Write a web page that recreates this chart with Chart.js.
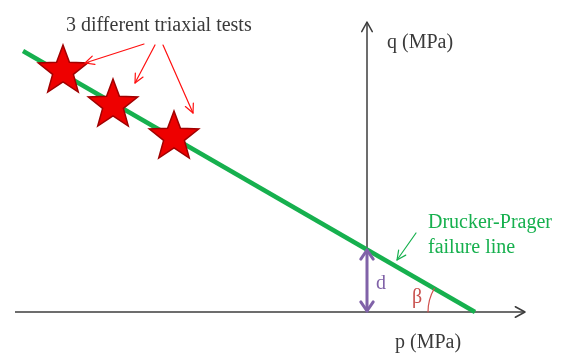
<!DOCTYPE html>
<html>
<head>
<meta charset="utf-8">
<script src="https://cdn.jsdelivr.net/npm/chart.js@4.4.1/dist/chart.umd.min.js"></script>
<style>
  html, body { margin: 0; padding: 0; background: #fff; }
  #wrap { width: 565px; height: 353px; position: relative; }
</style>
</head>
<body>
<div id="wrap"><canvas id="myChart"></canvas></div>
<script>
// p-q plane, units are arbitrary (MPa, no ticks shown)
const testP = [-30.4, -25.4, -19.3];
const testQ = [24.1, 20.7, 17.5];
const lineP = [-34.4, 10.8];
const lineQ = [26.1, 0];
const dValue = 6.3;
const pAxisRange = [-35.2, 15.8];
const qAxisRange = [0, 29.0];

const testsLabel = "3 different triaxial tests";
const qLabel = "q (MPa)";
const pLabel = "p (MPa)";
const dpLabel = ["Drucker-Prager", "failure line"];

// red five-pointed star used as point style
function makeStar(R) {
  const c = document.createElement('canvas');
  const s = Math.ceil(R * 2 + 4);
  c.width = s; c.height = s;
  const g = c.getContext('2d');
  const cx = s / 2, cy = s / 2, r = R * 0.42;
  g.beginPath();
  for (let i = 0; i < 10; i++) {
    const rad = i % 2 ? r : R;
    const a = -Math.PI / 2 + i * Math.PI / 5;
    const px = cx + rad * Math.cos(a), py = cy + rad * Math.sin(a);
    i ? g.lineTo(px, py) : g.moveTo(px, py);
  }
  g.closePath();
  g.fillStyle = '#ee0000';
  g.fill();
  g.lineWidth = 1.5;
  g.strokeStyle = '#a00000';
  g.stroke();
  return c;
}

function arrowHead(ctx, x1, y1, x2, y2, len, spread) {
  const a = Math.atan2(y2 - y1, x2 - x1);
  ctx.beginPath();
  ctx.moveTo(x2 - len * Math.cos(a - spread), y2 - len * Math.sin(a - spread));
  ctx.lineTo(x2, y2);
  ctx.lineTo(x2 - len * Math.cos(a + spread), y2 - len * Math.sin(a + spread));
  ctx.stroke();
}

function arrow(ctx, x1, y1, x2, y2, len, spread) {
  ctx.beginPath();
  ctx.moveTo(x1, y1);
  ctx.lineTo(x2, y2);
  ctx.stroke();
  arrowHead(ctx, x1, y1, x2, y2, len, spread);
}

// red pointers from the caption to each test, [p1, q1, p2, q2]
const pointers = [
  [-22.3, 26.8, -28.2, 24.9],
  [-21.2, 26.7, -23.2, 22.9],
  [-20.4, 26.7, -17.4, 19.9]
];
const greenPointer = [4.9, 7.9, 3.0, 5.2];

const diagram = {
  id: 'diagram',
  afterDatasetsDraw(chart) {
    const { ctx, scales: { x, y } } = chart;
    ctx.save();
    ctx.lineCap = 'round';
    ctx.lineJoin = 'round';

    // axis arrowheads
    ctx.strokeStyle = '#3c3c3c';
    ctx.lineWidth = 1.5;
    arrowHead(ctx, x.getPixelForValue(0), y.getPixelForValue(0),
      x.getPixelForValue(pAxisRange[1]), y.getPixelForValue(0), 11, 0.5);
    arrowHead(ctx, x.getPixelForValue(0), y.getPixelForValue(0),
      x.getPixelForValue(0), y.getPixelForValue(qAxisRange[1]), 11, 0.5);

    // red pointers
    ctx.strokeStyle = '#ff1010';
    ctx.lineWidth = 1.2;
    pointers.forEach(p => arrow(ctx, x.getPixelForValue(p[0]), y.getPixelForValue(p[1]),
      x.getPixelForValue(p[2]), y.getPixelForValue(p[3]), 10, 0.45));

    // green pointer
    ctx.strokeStyle = '#16b04e';
    arrow(ctx, x.getPixelForValue(greenPointer[0]), y.getPixelForValue(greenPointer[1]),
      x.getPixelForValue(greenPointer[2]), y.getPixelForValue(greenPointer[3]), 10, 0.45);

    // d: double arrow between axis and intercept
    const x0 = x.getPixelForValue(0);
    const yTop = y.getPixelForValue(dValue), yBot = y.getPixelForValue(0);
    ctx.strokeStyle = '#8062a8';
    ctx.lineWidth = 3;
    ctx.beginPath(); ctx.moveTo(x0, yTop + 1); ctx.lineTo(x0, yBot - 1); ctx.stroke();
    arrowHead(ctx, x0, yBot, x0, yTop + 1, 11, 0.6);
    arrowHead(ctx, x0, yTop, x0, yBot - 1, 11, 0.6);

    // beta arc at the p-axis intercept
    const ex = x.getPixelForValue(lineP[1]), ey = y.getPixelForValue(lineQ[1]);
    const beta = Math.atan2(y.getPixelForValue(lineQ[0]) - ey, x.getPixelForValue(lineP[0]) - ex);
    ctx.strokeStyle = '#d0504d';
    ctx.lineWidth = 1.2;
    ctx.beginPath();
    ctx.arc(ex, ey, 47, Math.PI, beta + 2 * Math.PI);
    ctx.stroke();

    // text
    ctx.font = '20px "Liberation Serif", serif';
    ctx.textBaseline = 'alphabetic';
    ctx.textAlign = 'left';
    ctx.fillStyle = '#3a3a3a';
    ctx.fillText(testsLabel, x.getPixelForValue(-30.1), y.getPixelForValue(28.1));
    ctx.fillText(qLabel, x.getPixelForValue(2.0), y.getPixelForValue(26.4));
    ctx.fillText(pLabel, x.getPixelForValue(2.8), y.getPixelForValue(-3.6));
    ctx.fillStyle = '#16b04e';
    ctx.fillText(dpLabel[0], x.getPixelForValue(6.1), y.getPixelForValue(8.4));
    ctx.fillText(dpLabel[1], x.getPixelForValue(6.1), y.getPixelForValue(5.9));
    ctx.fillStyle = '#8062a8';
    ctx.fillText('d', x.getPixelForValue(0.9), y.getPixelForValue(2.3));
    ctx.fillStyle = '#c8504d';
    ctx.fillText('\u03b2', x.getPixelForValue(4.5), y.getPixelForValue(0.9));
    ctx.restore();
  }
};

const ctx = document.getElementById('myChart').getContext('2d');
const myChart = new Chart(ctx, {
  type: 'scatter',
  data: {
    datasets: [{
      label: 'tests',
      data: testP.map((p, i) => ({ x: p, y: testQ[i] })),
      pointStyle: makeStar(26),
      pointRadius: 26,
      order: 0
    }, {
      label: 'Drucker-Prager',
      type: 'line',
      data: lineP.map((p, i) => ({ x: p, y: lineQ[i] })),
      borderColor: '#16b04e',
      borderWidth: 4.5,
      pointRadius: 0,
      order: 1
    }, {
      label: 'p axis',
      type: 'line',
      data: [{ x: pAxisRange[0], y: 0 }, { x: pAxisRange[1], y: 0 }],
      borderColor: '#3c3c3c',
      borderWidth: 1.5,
      pointRadius: 0,
      order: 2
    }, {
      label: 'q axis',
      type: 'line',
      data: [{ x: 0, y: qAxisRange[0] }, { x: 0, y: qAxisRange[1] }],
      borderColor: '#3c3c3c',
      borderWidth: 1.5,
      pointRadius: 0,
      order: 2
    }]
  },
  options: {
    responsive: true,
    maintainAspectRatio: false,
    animation: false,
    clip: false,
    layout: { padding: 0, autoPadding: false },
    plugins: { legend: { display: false }, tooltip: { enabled: false } },
    scales: {
      x: { type: 'linear', display: false, min: -36.7, max: 19.8 },
      y: { type: 'linear', display: false, min: -4.1, max: 31.2 }
    }
  },
  plugins: [diagram]
});
</script>
</body>
</html>
